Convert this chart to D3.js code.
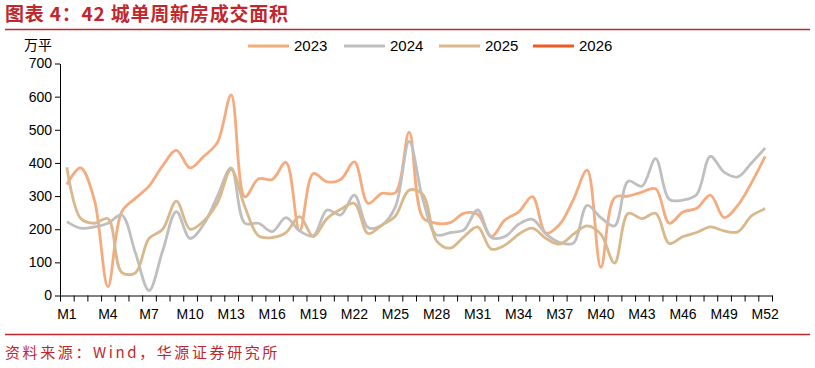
<!DOCTYPE html>
<html>
<head>
<meta charset="utf-8">
<script src="https://cdn.jsdelivr.net/npm/d3@7"></script>
<style>
  body { margin: 0; background: #fff; }
  svg { display: block; }
</style>
</head>
<body>
<svg id="chart" width="815" height="368"></svg>
<script>
// weekly values, 万平
const weeks = d3.range(1, 53).map(i => 'M' + i);
const years = ['2023', '2024', '2025', '2026'];
const colors = ['#F5AB7E', '#BFBFBF', '#D8B88C', '#F05A22'];
const yTicks = [0, 100, 200, 300, 400, 500, 600, 700];

const v2023 = [335, 385, 290, 27, 252, 293, 330, 392, 438, 385, 420, 462, 605, 298, 352, 350, 402, 195, 368, 343,
  350, 403, 278, 308, 310, 493, 235, 218, 220, 248, 245, 178, 228, 252, 298, 188, 215, 290, 378, 85,
  295, 300, 312, 322, 218, 252, 263, 303, 235, 272, 340, 420];
const v2024 = [223, 203, 207, 218, 243, 130, 15, 135, 253, 172, 215, 300, 385, 218, 218, 193, 235, 195, 180, 258,
  243, 303, 205, 212, 268, 465, 290, 183, 190, 198, 258, 175, 178, 215, 230, 185, 160, 158, 272, 235,
  210, 345, 330, 413, 290, 288, 305, 420, 372, 358, 400, 445];
const v2025 = [387, 233, 218, 232, 70, 68, 172, 200, 285, 200, 225, 280, 380, 268, 180, 175, 190, 238, 178, 232,
  260, 278, 187, 212, 240, 318, 305, 165, 143, 177, 207, 140, 152, 185, 203, 172, 155, 185, 210, 185,
  98, 248, 232, 248, 157, 178, 190, 207, 195, 192, 240, 262];
const v2026 = [];

const series = [v2023, v2024, v2025, v2026];

const svg = d3.select('#chart');
const red = '#C0272D';

// title
svg.append('text')
  .attr('x', 5).attr('y', 21)
  .attr('fill', red)
  .attr('font-family', '"Noto Sans CJK SC", sans-serif')
  .attr('font-weight', 'bold')
  .attr('font-size', '19px')
  .attr('letter-spacing', '0.8px')
  .text('图表 4：42 城单周新房成交面积');

svg.append('line')
  .attr('x1', 5).attr('x2', 810).attr('y1', 29.5).attr('y2', 29.5)
  .attr('stroke', red).attr('stroke-width', 1.5);

// scales
const plotL = 60, plotR = 772, plotT = 63.5, plotB = 295.5;
const x = d3.scaleBand().domain(weeks).range([plotL, plotR]);
const y = d3.scaleLinear().domain([0, 700]).range([plotB, plotT]);
const xEdge = d3.scaleLinear().domain([0, 52]).range([plotL, plotR]);

// unit
svg.append('text')
  .attr('x', 24).attr('y', 50)
  .attr('font-family', '"Noto Sans CJK SC", sans-serif')
  .attr('font-size', '14px')
  .attr('fill', '#000')
  .text('万平');

// y axis
const yAxis = svg.append('g')
  .attr('transform', `translate(${plotL},0)`)
  .call(d3.axisLeft(y).tickValues(yTicks).tickSize(5).tickSizeOuter(0));
yAxis.selectAll('text')
  .attr('font-family', 'Liberation Sans, Arial, sans-serif')
  .attr('font-size', '14px')
  .attr('fill', '#000');
yAxis.selectAll('line, path').attr('stroke', '#000');

// x axis tick marks at band edges
const xTickAxis = svg.append('g')
  .attr('transform', `translate(0,${plotB})`)
  .call(d3.axisBottom(xEdge).tickValues(d3.range(53)).tickFormat('').tickSize(6).tickSizeOuter(0));
xTickAxis.selectAll('line, path').attr('stroke', '#000');

// x labels
const xLabelAxis = svg.append('g')
  .attr('transform', `translate(0,${plotB})`)
  .call(d3.axisBottom(x).tickValues(weeks.filter((d, i) => i % 3 === 0)).tickSize(0).tickPadding(14));
xLabelAxis.select('.domain').remove();
xLabelAxis.selectAll('text')
  .attr('font-family', 'Liberation Sans, Arial, sans-serif')
  .attr('font-size', '14px')
  .attr('fill', '#000');

// lines
const line = d3.line()
  .x((d, i) => x(weeks[i]) + x.bandwidth() / 2)
  .y(d => y(d))
  .curve(d3.curveCatmullRom.alpha(0.5));

series.forEach((s, k) => {
  if (!s.length) return;
  svg.append('path')
    .datum(s)
    .attr('fill', 'none')
    .attr('stroke', colors[k])
    .attr('stroke-width', 2.8)
    .attr('stroke-linejoin', 'round')
    .attr('d', line);
});

// legend
const legendX = [248, 344, 439, 533];
years.forEach((yr, k) => {
  const g = svg.append('g').attr('transform', `translate(${legendX[k]},46)`);
  g.append('line')
    .attr('x1', 0).attr('x2', 41).attr('y1', 0).attr('y2', 0)
    .attr('stroke', colors[k]).attr('stroke-width', 3);
  g.append('text')
    .attr('x', 46).attr('y', 5)
    .attr('font-family', 'Liberation Sans, Arial, sans-serif')
    .attr('font-size', '15px')
    .attr('fill', '#000')
    .text(yr);
});

// source
svg.append('line')
  .attr('x1', 5).attr('x2', 810).attr('y1', 334.5).attr('y2', 334.5)
  .attr('stroke', red).attr('stroke-width', 1.5);

svg.append('text')
  .attr('x', 5).attr('y', 358)
  .attr('fill', red)
  .attr('font-family', '"Noto Sans CJK SC", sans-serif')
  .attr('font-size', '15px')
  .attr('letter-spacing', '2.6px')
  .text('资料来源：Wind，华源证券研究所');
</script>
</body>
</html>
